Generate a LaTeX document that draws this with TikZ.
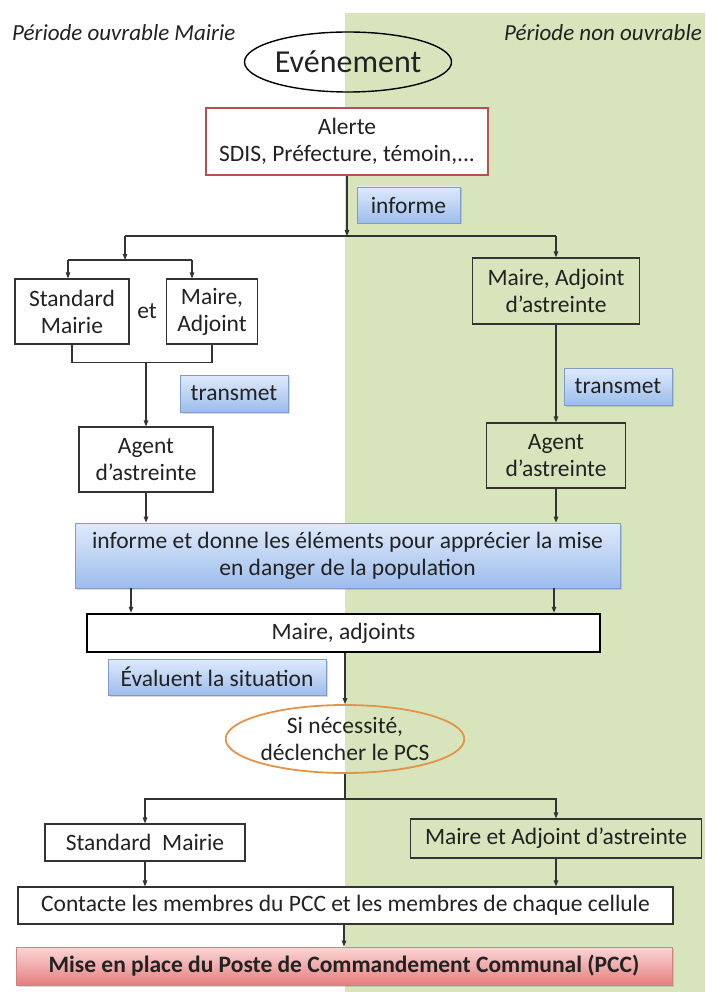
\documentclass[tikz,border=0pt]{standalone}
\usepackage{fontspec}
\setmainfont{Carlito}
\usepackage{xcolor}
\usetikzlibrary{shapes.geometric,arrows.meta,shadows}

\definecolor{bggreen}{HTML}{D8E4BC}
\definecolor{txtc}{HTML}{222222}
\definecolor{linec}{HTML}{333333}
\definecolor{bluetop}{HTML}{DFEAFB}
\definecolor{bluebot}{HTML}{9DBDEC}
\definecolor{blueline}{HTML}{7E9CCB}
\definecolor{redtop}{HTML}{FAD6D6}
\definecolor{redbot}{HTML}{E57F80}
\definecolor{redline}{HTML}{B9504E}
\definecolor{orangec}{HTML}{E0954A}

\begin{document}
\begin{tikzpicture}[x=1pt,y=-1pt,
  every node/.append style={font=\fontsize{23.5}{27}\selectfont,text=txtc,align=center,inner sep=0pt},
  box/.style={draw=linec,line width=1.1pt},
  blab/.style={draw=blueline,line width=0.8pt,top color=bluetop,bottom color=bluebot,
    drop shadow={opacity=0.3,shadow xshift=1.5pt,shadow yshift=-1.5pt}},
  >={Triangle[length=6pt,width=4.5pt]}]
\useasboundingbox (0,0) rectangle (705,992);
\fill[bggreen] (345,13) rectangle (705,992);

% titres des deux colonnes
\node[anchor=west,font=\fontsize{23}{27}\selectfont\itshape] (tl) at (12,33) {Période ouvrable Mairie};
\node[anchor=east,font=\fontsize{23}{27}\selectfont\itshape] (tr) at (702,33) {Période non ouvrable};

% haut
\node[ellipse,draw=black,line width=1.4pt,minimum width=190pt,minimum height=60pt,font=\fontsize{32}{36}\selectfont] (event) at (348,62) {Evénement};
\node[draw=redline,line width=1.6pt,fill=white,minimum width=282pt,minimum height=67pt] (alerte) at (347,141.5) {Alerte\\SDIS, Préfecture, témoin,...};
\node[blab,minimum width=103pt,minimum height=36pt] (inf1) at (408.5,205) {informe};

% gauche
\node[box,fill=white,minimum width=114pt,minimum height=65pt] (std1) at (72,311.5) {Standard\\Mairie};
\node (et) at (147,311) {et};
\node[box,fill=white,minimum width=91pt,minimum height=65pt] (maire1) at (212,311.5) {Maire,\\Adjoint};
\node[blab,minimum width=108pt,minimum height=37pt] (trans1) at (234,393.5) {transmet};
\node[box,fill=white,minimum width=134pt,minimum height=65pt] (agent1) at (146,459.5) {Agent\\d’astreinte};

% droite
\node[box,minimum width=167pt,minimum height=66pt] (maire2) at (556,291) {Maire, Adjoint\\d’astreinte};
\node[blab,minimum width=108pt,minimum height=37pt] (trans2) at (618,386.5) {transmet};
\node[box,minimum width=139pt,minimum height=65pt] (agent2) at (556,455.5) {Agent\\d’astreinte};

% milieu
\node[blab,minimum width=545pt,minimum height=65pt] (info) at (347.5,555.5) {informe et donne les éléments pour apprécier la mise\\en danger de la population};
\node[draw=black,line width=2.4pt,fill=white,minimum width=513pt,minimum height=38pt] (adjoints) at (343.5,633) {Maire, adjoints};
\node[blab,minimum width=218pt,minimum height=36pt] (eval) at (217,677) {Évaluent la situation};
\node[ellipse,draw=orangec,line width=1.8pt,minimum width=230pt,minimum height=68pt] (pcs) at (345,739) {Si nécessité,\\déclencher le PCS};

% bas
\node[box,fill=white,minimum width=200pt,minimum height=37pt] (std2) at (145,842.5) {Standard\ \ Mairie};
\node[box,minimum width=291pt,minimum height=39pt] (maire3) at (556,838.5) {Maire et Adjoint d’astreinte};
\node[box,fill=white,minimum width=655pt,minimum height=37pt] (contact) at (345.5,905.5) {Contacte les membres du PCC et les membres de chaque cellule};
\node[draw=redline!70,line width=0.8pt,top color=redtop,bottom color=redbot,minimum width=656pt,minimum height=38pt,
  drop shadow={opacity=0.3,shadow xshift=1.5pt,shadow yshift=-1.5pt},font=\fontsize{23.5}{27}\selectfont\bfseries] (pcc) at (344,966) {Mise en place du Poste de Commandement Communal (PCC)};

% liaisons
\coordinate (s1) at (347,236);
\coordinate (s1l) at (125,236);
\coordinate (s1r) at (556,236);
\coordinate (s2) at (125,260);
\coordinate (s2l) at (68,260);
\coordinate (s2r) at (192,260);
\coordinate (s3) at (345,799);
\begin{scope}[draw=linec,line width=1.1pt]
\draw[->] (alerte.south) -- (s1);
\draw (s1l) -- (s1r);
\draw[->] (s1l) -- (s2);
\draw (s2l) -- (s2r);
\draw[->] (s2l) -- (s2l |- std1.north);
\draw[->] (s2r) -- (s2r |- maire1.north);
\draw[->] (s1r) -- (maire2.north);
\draw (std1.south) -- ++(0,18) coordinate (b1) -| (maire1.south);
\draw[->] (b1 -| agent1.north) -- (agent1.north);
\draw[->] (maire2.south) -- (agent2.north);
\draw[->] (agent1.south) -- (agent1.south |- info.north);
\draw[->] (agent2.south) -- (agent2.south |- info.north);
\draw[->] ([xshift=-216.5pt]info.south) -- ([xshift=-216.5pt]info.south |- adjoints.north);
\draw[->] ([xshift=206.5pt]info.south) -- ([xshift=206.5pt]info.south |- adjoints.north);
\draw[->] (adjoints.south -| pcs.north) -- (pcs.north);
\draw (pcs.south) -- (s3);
\draw[->] (s3) -| (std2.north);
\draw[->] (s3) -| (maire3.north);
\draw[->] (std2.south) -- (std2.south |- contact.north);
\draw[->] (maire3.south) -- (maire3.south |- contact.north);
\draw[->] (contact.south -| pcc.north) -- (pcc.north);
\end{scope}
\end{tikzpicture}
\end{document}
